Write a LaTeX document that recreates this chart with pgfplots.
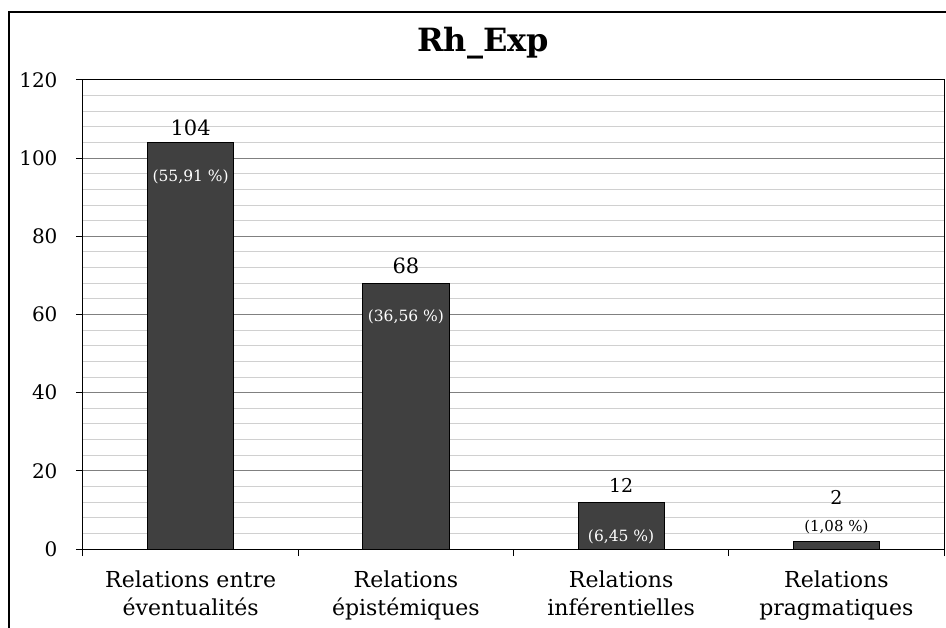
\documentclass[border=0pt]{standalone}
\usepackage{pgfplots}
\pgfplotsset{compat=1.18}
\usepackage{fontspec}
\setmainfont{DejaVu Serif}
\definecolor{barfill}{HTML}{404040}
\definecolor{majgrid}{HTML}{808080}
\definecolor{mingrid}{HTML}{D0D0D0}

\begin{document}
\begin{tikzpicture}
  % page = 946 x 628, origin at top left
  \path[use as bounding box] (0pt,0pt) rectangle (946pt,-628pt);
  \draw[line width=1.2pt] (9pt,-640pt) -- (9pt,-12pt) -- (960pt,-12pt);

  \node[font=\fontsize{32}{36}\selectfont\bfseries] at (483pt,-43pt) {Rh\_Exp};

  \begin{axis}[
    at={(83pt,-549pt)}, anchor=south west,
    scale only axis, width=861pt, height=469pt,
    ymin=0, ymax=120, xmin=-0.5, xmax=3.5,
    ytick={0,20,...,120},
    minor y tick num=4,
    ymajorgrids, yminorgrids,
    major grid style={majgrid, line width=1pt},
    minor grid style={mingrid, line width=1pt},
    axis line style={black, line width=1pt},
    tick align=outside, tick pos=left,
    major tick length=7pt, minor tick length=0pt,
    ytick style={black, line width=1pt},
    xtick={0,1,2,3},
    xtick style={draw=none},
    xticklabels={{Relations entre\\éventualités},{Relations\\épistémiques},{Relations\\inférentielles},{Relations\\pragmatiques}},
    xticklabel style={align=center, font=\fontsize{22}{28}\selectfont, yshift=-11pt},
    /pgf/number format/assume math mode=true,
    yticklabel style={font=\fontsize{20}{24}\selectfont, xshift=-15pt},
    extra x ticks={-0.5,0.5,1.5,2.5,3.5},
    extra x tick labels={},
    extra x tick style={grid=none, xtick style={draw=black, line width=1pt}, major tick length=7pt},
    clip=false,
  ]
    \addplot[ybar, bar width=0.4, fill=barfill, draw=black, line width=0.8pt]
      coordinates {(0,104) (1,68) (2,12) (3,2)};

    \node[font=\fontsize{21}{24}\selectfont] at (axis cs:0,104) [yshift=15pt] {104};
    \node[font=\fontsize{21}{24}\selectfont] at (axis cs:1,68) [yshift=17pt] {68};
    \node[font=\fontsize{19}{22}\selectfont] at (axis cs:2,12) [yshift=17pt] {12};
    \node[font=\fontsize{19}{22}\selectfont] at (axis cs:3,2) [yshift=44pt] {2};

    \node[font=\fontsize{15.5}{18}\selectfont, white] at (axis cs:0,104) [yshift=-34pt] {(55,91 \%)};
    \node[font=\fontsize{15.5}{18}\selectfont, white] at (axis cs:1,68) [yshift=-34pt] {(36,56 \%)};
    \node[font=\fontsize{15.5}{18}\selectfont, white] at (axis cs:2,12) [yshift=-35pt] {(6,45 \%)};
    \node[font=\fontsize{15}{18}\selectfont] at (axis cs:3,2) [yshift=14pt] {(1,08 \%)};
  \end{axis}
\end{tikzpicture}
\end{document}
